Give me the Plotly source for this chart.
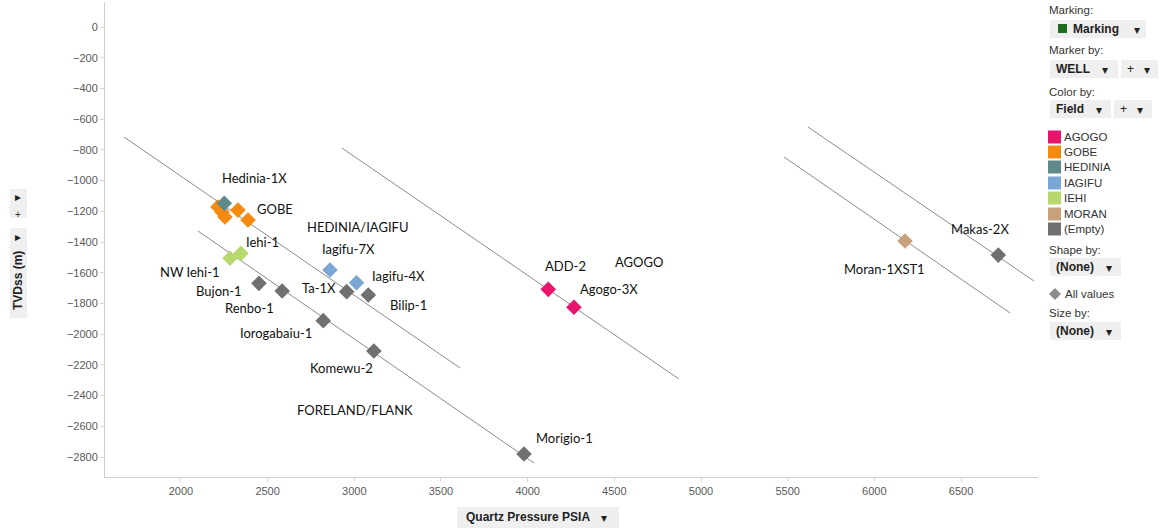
import plotly.graph_objects as go

# ---- Well data: quartz gauge pressure (psia) vs. true vertical depth subsea (m)
fields = ["AGOGO", "GOBE", "HEDINIA", "IAGIFU", "IEHI", "MORAN", "(Empty)"]
field_colors = ["#e8146e", "#f58a10", "#5e8a8c", "#7ba7d6", "#b6d86c", "#c9a07c", "#707070"]

agogo_wells = ["ADD-2", "Agogo-3X"]
agogo_psia = [4119, 4267]
agogo_tvdss = [-1708, -1825]

gobe_wells = ["Gobe-a", "Gobe-b", "Gobe-c", "Gobe-d", "Gobe-e"]
gobe_psia = [2213, 2237, 2254, 2329, 2387]
gobe_tvdss = [-1172, -1205, -1237, -1192, -1257]

hedinia_wells = ["Hedinia-1X"]
hedinia_psia = [2250]
hedinia_tvdss = [-1148]

iagifu_wells = ["Iagifu-7X", "Iagifu-4X"]
iagifu_psia = [2860, 3013]
iagifu_tvdss = [-1582, -1665]

iehi_wells = ["NW Iehi-1", "Iehi-1"]
iehi_psia = [2283, 2346]
iehi_tvdss = [-1506, -1474]

moran_wells = ["Moran-1XST1"]
moran_psia = [6177]
moran_tvdss = [-1393]

empty_wells = ["Bujon-1", "Renbo-1", "Ta-1X", "Bilip-1", "Iorogabaiu-1",
               "Komewu-2", "Morigio-1", "Makas-2X"]
empty_psia = [2450, 2584, 2956, 3081, 2821, 3113, 3979, 6715]
empty_tvdss = [-1669, -1719, -1723, -1745, -1912, -2110, -2780, -1485]

# ---- Pressure gradient lines (start / end points)
gradient_psia = [[1671, 3610], [2098, 4037], [2929, 4873], [5479, 6783], [5617, 6921]]
gradient_tvdss = [[-716, -2220], [-1328, -2839], [-788, -2292], [-846, -1862], [-651, -1654]]

# ---- Text labels placed in data space
label_text = ["Hedinia-1X", "GOBE", "HEDINIA/IAGIFU", "Iagifu-7X", "Iagifu-4X", "Ta-1X",
              "Bilip-1", "Iehi-1", "NW Iehi-1", "Bujon-1", "Renbo-1", "Iorogabaiu-1",
              "Komewu-2", "FORELAND/FLANK", "Morigio-1", "ADD-2", "AGOGO", "Agogo-3X",
              "Moran-1XST1", "Makas-2X"]
label_psia = [2427, 2545, 3018, 2967, 3256, 2794, 3310, 2470, 2052, 2219, 2398, 2550,
              2929, 3004, 4215, 4221, 4642, 4469, 6056, 6610]
label_tvdss = [-983, -1185, -1300, -1446, -1620, -1697, -1810, -1398, -1593, -1719, -1832,
               -1995, -2220, -2494, -2676, -1556, -1530, -1706, -1576, -1315]

series = [
    (agogo_wells, agogo_psia, agogo_tvdss),
    (gobe_wells, gobe_psia, gobe_tvdss),
    (hedinia_wells, hedinia_psia, hedinia_tvdss),
    (iagifu_wells, iagifu_psia, iagifu_tvdss),
    (iehi_wells, iehi_psia, iehi_tvdss),
    (moran_wells, moran_psia, moran_tvdss),
    (empty_wells, empty_psia, empty_tvdss),
]

fig = go.Figure()

for gx, gy in zip(gradient_psia, gradient_tvdss):
    fig.add_trace(go.Scatter(x=gx, y=gy, mode="lines",
                             line=dict(color="#8a8a8a", width=1),
                             hoverinfo="skip", showlegend=False))

# draw grey wells first so coloured ones sit on top
order = [6, 0, 1, 2, 3, 4, 5]
for i in order:
    wells, px, ty = series[i]
    fig.add_trace(go.Scatter(
        x=px, y=ty, mode="markers", name=fields[i], text=wells,
        marker=dict(symbol="diamond", size=12, color=field_colors[i],
                    line=dict(width=0)),
        hovertemplate="%{text}<br>%{x} psia<br>%{y} m<extra>" + fields[i] + "</extra>",
        showlegend=False))

annotations = []
for t, x, y in zip(label_text, label_psia, label_tvdss):
    annotations.append(dict(x=x, y=y, xref="x", yref="y", text=t, showarrow=False,
                            font=dict(family="Lato, Open Sans, sans-serif", size=13,
                                      color="#111111")))

shapes = []
ui_font = dict(family="Liberation Sans, Arial, sans-serif", size=11.5, color="#333333")
ui_bold = dict(family="Liberation Sans, Arial, sans-serif", size=12, color="#222222")
box_fill = "#efefef"


def px_box(x0, y0, x1, y1):
    shapes.append(dict(type="rect", xref="paper", yref="paper",
                       x0=(x0 - 105) / 933, x1=(x1 - 105) / 933,
                       y0=(477 - y1) / 475, y1=(477 - y0) / 475,
                       fillcolor=box_fill, line=dict(width=0), layer="below"))


def px_text(x, y, text, font, anchor="left", angle=0):
    annotations.append(dict(x=(x - 105) / 933, y=(477 - y) / 475, xref="paper", yref="paper",
                            text=text, showarrow=False, xanchor=anchor, yanchor="middle",
                            textangle=angle, font=font))


# ---- Right-hand control panel
px_text(1047, 10, "Marking:", ui_font)
px_box(1050, 20, 1146, 38)
shapes.append(dict(type="rect", xref="paper", yref="paper",
                   x0=(1058 - 105) / 933, x1=(1067 - 105) / 933,
                   y0=(477 - 33) / 475, y1=(477 - 24) / 475,
                   fillcolor="#1e6b1e", line=dict(width=0)))
px_text(1071, 29, "<b>Marking</b>", ui_bold)
px_text(1132, 30, "▾", ui_bold)

px_text(1047, 50, "Marker by:", ui_font)
px_box(1050, 60, 1118, 78)
px_text(1054, 69, "<b>WELL</b>", ui_bold)
px_text(1100, 70, "▾", ui_bold)
px_box(1121, 60, 1158, 78)
px_text(1125, 69, "+", ui_bold)
px_text(1142, 70, "▾", ui_bold)

px_text(1047, 92, "Color by:", ui_font)
px_box(1050, 100, 1111, 118)
px_text(1054, 109, "<b>Field</b>", ui_bold)
px_text(1094, 110, "▾", ui_bold)
px_box(1114, 100, 1152, 118)
px_text(1118, 109, "+", ui_bold)
px_text(1135, 110, "▾", ui_bold)

legend_y = [137, 152, 167, 183, 198, 214, 229]
for name, col, ly in zip(fields, field_colors, legend_y):
    shapes.append(dict(type="rect", xref="paper", yref="paper",
                       x0=(1048 - 105) / 933, x1=(1061 - 105) / 933,
                       y0=(477 - ly - 6.5) / 475, y1=(477 - ly + 6.5) / 475,
                       fillcolor=col, line=dict(width=0)))
    px_text(1062, ly, name, ui_font)

px_text(1047, 250, "Shape by:", ui_font)
px_box(1050, 258, 1121, 276)
px_text(1054, 267, "<b>(None)</b>", ui_bold)
px_text(1104, 268, "▾", ui_bold)

shapes.append(dict(type="path", xref="paper", yref="paper",
                   path="M {a},{b} L {c},{d} L {a},{e} L {f},{d} Z".format(
                       a=(1055 - 105) / 933, b=(477 - 288) / 475,
                       c=(1061 - 105) / 933, d=(477 - 294) / 475,
                       e=(477 - 300) / 475, f=(1049 - 105) / 933),
                   fillcolor="#8c8c8c", line=dict(width=0)))
px_text(1063, 294, "All values", ui_font)

px_text(1047, 313, "Size by:", ui_font)
px_box(1050, 322, 1121, 340)
px_text(1054, 331, "<b>(None)</b>", ui_bold)
px_text(1104, 332, "▾", ui_bold)

# ---- Axis title boxes
px_box(457, 507, 619, 528)
px_text(528, 517, "<b>Quartz Pressure PSIA</b>", ui_bold, anchor="center")
px_text(599, 518, "▾", ui_bold)

px_box(10, 189, 27, 218)
px_text(18, 197, "▸", ui_bold, anchor="center")
px_text(18, 214, "+", dict(family="Liberation Sans, Arial", size=10, color="#333"),
        anchor="center")
px_box(10, 228, 27, 318)
px_text(18, 237, "▸", ui_bold, anchor="center")
px_text(18, 281, "<b>TVDss (m)</b>", ui_bold, anchor="center", angle=-90)

axis_common = dict(showgrid=False, zeroline=False, showline=True, linecolor="#cfcfcf",
                   linewidth=1, ticks="outside", ticklen=4, tickcolor="#d8d8d8",
                   tickfont=dict(family="Liberation Sans, Arial, sans-serif", size=11,
                                 color="#5a5a5a"))

fig.update_layout(
    width=1160, height=531,
    margin=dict(l=105, r=122, t=2, b=54),
    paper_bgcolor="white", plot_bgcolor="white",
    xaxis=dict(range=[1562, 6944], tickvals=[2000, 2500, 3000, 3500, 4000, 4500, 5000,
                                               5500, 6000, 6500], **axis_common),
    yaxis=dict(range=[-2930, 163], dtick=200, **axis_common),
    annotations=annotations, shapes=shapes,
    showlegend=False,
)

fig.write_html("out.html")
